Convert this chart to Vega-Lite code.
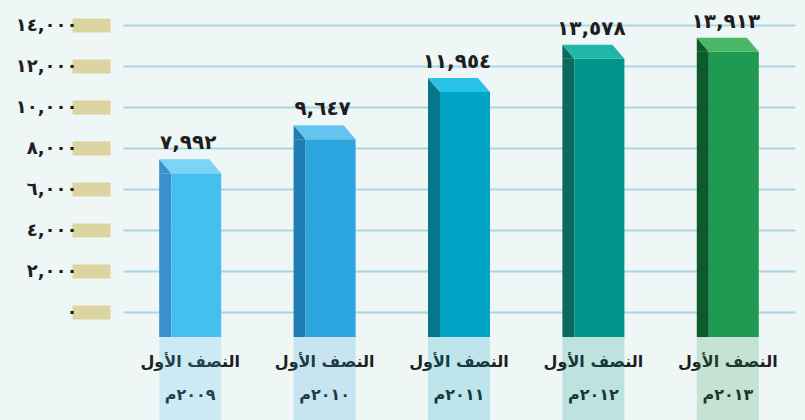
{
  "$schema": "https://vega.github.io/schema/vega-lite/v6.json",
  "autosize": {"type": "none"},
  "padding": {"left": 123, "top": 25, "right": 10, "bottom": 108},
  "width": 672,
  "height": 287,
  "background": "#eef6f6",
  "config": {"view": {"stroke": null}},
  "data": {
    "values": [
      {"year": "٢٠٠٩م", "value": 7992, "lbl": "٧,٩٩٢"},
      {"year": "٢٠١٠م", "value": 9647, "lbl": "٩,٦٤٧"},
      {"year": "٢٠١١م", "value": 11954, "lbl": "١١,٩٥٤"},
      {"year": "٢٠١٢م", "value": 13578, "lbl": "١٣,٥٧٨"},
      {"year": "٢٠١٣م", "value": 13913, "lbl": "١٣,٩١٣"}
    ]
  },
  "encoding": {
    "x": {
      "field": "year", "type": "nominal", "sort": null,
      "scale": {"paddingInner": 0, "paddingOuter": 0},
      "axis": {
        "title": null, "domain": false, "ticks": false, "grid": false,
        "labelAngle": 0,
        "labelExpr": "['النصف الأول', datum.label]",
        "labelFont": "DejaVu Sans", "labelFontWeight": "bold", "labelFontSize": 16,
        "labelColor": "#1e1e1e", "labelLineHeight": 33, "labelPadding": 41
      }
    }
  },
  "layer": [
    {
      "mark": {"type": "bar", "width": 62, "opacity": 0.2, "yOffset": 25, "y2Offset": 108},
      "encoding": {
        "y": {"datum": 0, "type": "quantitative", "scale": {"domain": [0, 14000], "nice": false},
          "axis": {
            "title": null, "orient": "left", "offset": 13, "domain": false,
            "values": [0, 2000, 4000, 6000, 8000, 10000, 12000, 14000],
            "tickSize": 38, "tickWidth": 14, "tickColor": "#d8cd8c", "tickOpacity": 0.8,
            "labelPadding": -5, "labelFont": "DejaVu Sans", "labelFontWeight": "bold",
            "labelFontSize": 18, "labelColor": "#1e1e1e",
            "grid": true, "gridColor": "#a9d6e2", "gridWidth": 2,
            "labelExpr": "replace(replace(replace(replace(replace(replace(replace(replace(replace(replace(format(datum.value, ','), regexp('0','g'), '٠'), regexp('1','g'), '١'), regexp('2','g'), '٢'), regexp('3','g'), '٣'), regexp('4','g'), '٤'), regexp('5','g'), '٥'), regexp('6','g'), '٦'), regexp('7','g'), '٧'), regexp('8','g'), '٨'), regexp('9','g'), '٩')"
          }
        },
        "y2": {"datum": 0},
        "color": {"field": "year", "type": "nominal", "sort": null, "legend": null,
          "scale": {"range": ["#45c0ee", "#2da6df", "#00a5c6", "#00958a", "#1e9a52"]}}
      }
    },
    {
      "mark": {"type": "bar", "width": 12, "xOffset": -25, "yOffset": 25, "y2Offset": 25},
      "encoding": {
        "y": {"field": "value", "type": "quantitative"},
        "y2": {"datum": 0},
        "color": {"field": "year", "type": "nominal", "sort": null, "legend": null,
          "scale": {"range": ["#3b8fcd", "#1f7db6", "#07758a", "#0b6a5e", "#0d5a2d"]}}
      }
    },
    {
      "mark": {"type": "bar", "width": 50, "xOffset": 6, "yOffset": 25, "y2Offset": 25},
      "encoding": {
        "y": {"field": "value", "type": "quantitative"},
        "y2": {"datum": 0},
        "color": {"field": "year", "type": "nominal", "sort": null, "legend": null,
          "scale": {"range": ["#45c0ee", "#2da6df", "#00a5c6", "#00958a", "#1e9a52"]}}
      }
    },
    {
      "mark": {"type": "point", "filled": true, "opacity": 1, "size": 2500, "strokeWidth": 0, "yOffset": 25,
        "shape": "M-0.76,0L-1.24,-0.56L-1.24,0Z"},
      "encoding": {
        "y": {"field": "value", "type": "quantitative"},
        "color": {"field": "year", "type": "nominal", "sort": null, "legend": null,
          "scale": {"range": ["#3b8fcd", "#1f7db6", "#07758a", "#0b6a5e", "#0d5a2d"]}}
      }
    },
    {
      "mark": {"type": "point", "filled": true, "opacity": 1, "size": 2500, "strokeWidth": 0, "yOffset": 25,
        "shape": "M-0.76,0L1.24,0L0.76,-0.56L-1.24,-0.56Z"},
      "encoding": {
        "y": {"field": "value", "type": "quantitative"},
        "color": {"field": "year", "type": "nominal", "sort": null, "legend": null,
          "scale": {"range": ["#7dd4f6", "#64c4ef", "#29c2e6", "#20b7a8", "#48b866"]}}
      }
    },
    {
      "mark": {"type": "text", "font": "DejaVu Sans", "fontWeight": "bold", "fontSize": 20,
        "color": "#1e1e1e", "baseline": "alphabetic", "dy": 1, "dx": -2},
      "encoding": {
        "y": {"field": "value", "type": "quantitative"},
        "text": {"field": "lbl"}
      }
    }
  ],
  "resolve": {"scale": {"color": "independent"}}
}
